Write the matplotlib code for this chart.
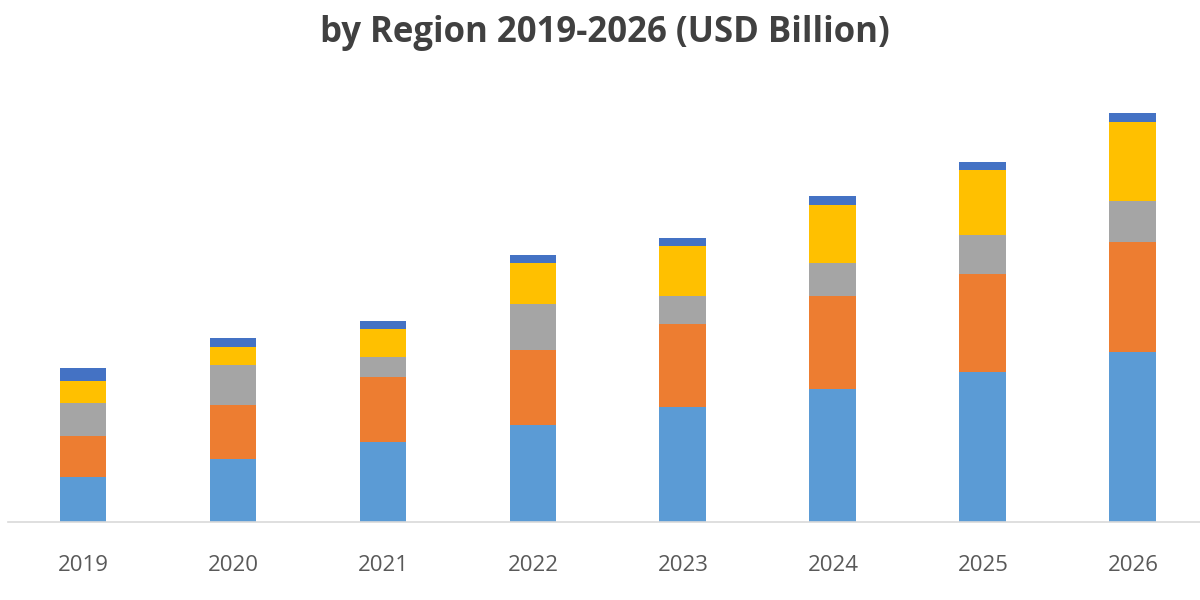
import matplotlib
matplotlib.use("Agg")
import matplotlib.pyplot as plt
import numpy as np

# years and segment values (USD Billion scale unknown)
years = ['2019', '2020', '2021', '2022', '2023', '2024', '2025', '2026']
seg_blue = [4.5, 6.3, 8.0, 9.7, 11.5, 13.3, 15.0, 17.0]
seg_orange = [4.1, 5.4, 6.5, 7.5, 8.3, 9.3, 9.8, 11.0]
seg_gray = [3.3, 4.0, 2.0, 4.6, 2.8, 3.3, 3.9, 4.1]
seg_yellow = [2.2, 1.8, 2.8, 4.1, 5.0, 5.8, 6.5, 7.9]
seg_dark = [1.3, 0.9, 0.8, 0.8, 0.8, 0.9, 0.8, 0.9]

series = [seg_blue, seg_orange, seg_gray, seg_yellow, seg_dark]
colores = ['#5B9BD5', '#ED7D31', '#A5A5A5', '#FFC000', '#4472C4']

fig = plt.figure(figsize=(12, 6), dpi=100)
ax = fig.add_axes([8 / 1200, 78 / 600, 1 - 8 / 1200, 442 / 600])

x = np.arange(len(years))
base = np.zeros(len(years))
for vals, col in zip(series, colores):
    ax.bar(x, vals, width=0.313, bottom=base, color=col, linewidth=0)
    base += np.array(vals)

ax.set_xlim(-0.5, 7.447)
ax.set_ylim(0, 44.2)

# only the baseline, no y axis
for lado in ['top', 'right', 'left']:
    ax.spines[lado].set_visible(False)
ax.spines['bottom'].set_color('#D9D9D9')
ax.spines['bottom'].set_linewidth(1.2)
ax.set_yticks([])
ax.set_xticks(x)
ax.set_xticklabels(years, fontsize=16, color='#595959', family='Open Sans')
ax.tick_params(axis='x', length=0, pad=24)

fig.text(0.504, 0.945, 'by Region 2019-2026 (USD Billion)', ha='center', va='center',
         fontsize=25, fontweight='bold', color='#404040', family='Open Sans')

fig.savefig('out.png', dpi=100)
